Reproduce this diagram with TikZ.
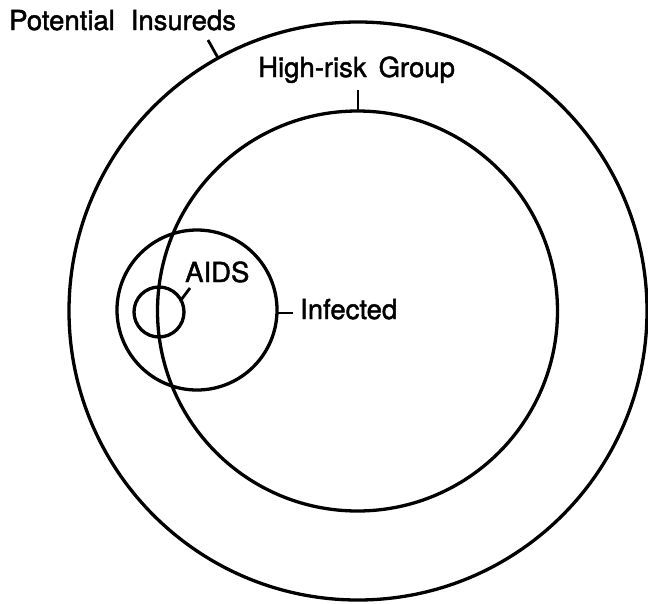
\documentclass[tikz,border=0pt]{standalone}
\usepackage{fontspec}
\setmainfont{TeX Gyre Heros}
\newfontface\labfont{TeX Gyre Heros}[FakeBold=1.6]
\begin{document}
\begin{tikzpicture}[x=1pt,y=-1pt,
  ring/.style={draw=black,line width=3.3pt},
  tick/.style={draw=black,line width=2.8pt},
  lab/.style={font=\labfont\fontsize{27.5}{30}\selectfont,inner sep=0pt,anchor=base west}]
\useasboundingbox (0,0) rectangle (648,603);
\fill[white] (0,0) rectangle (648,603);
% circles
\draw[ring] (358,311) circle[radius=289];
\draw[ring] (357.5,311) circle[radius=200];
\draw[ring] (197,310) circle[radius=80];
\draw[ring] (159,312) circle[radius=25];
% labels
\node[lab] (pot) at (9,30) {Potential\hspace{16pt}Insureds};
\node[lab] (hr) at (258,77) {High-risk\hspace{12pt}Group};
\node[lab] (inf) at (300,319) {Infected};
\node[lab] (aids) at (185,282) {AIDS};
% ticks
\coordinate (p1) at (208,40);
\coordinate (p2) at (217.5,57);
\coordinate (h1) at (358,90);
\coordinate (h2) at (358,111);
\coordinate (i1) at (277,313);
\coordinate (i2) at (293,313);
\coordinate (a1) at (181,300);
\coordinate (a2) at (190,288);
\draw[tick] (p1) -- (p2);
\draw[tick] (h1) -- (h2);
\draw[tick] (i1) -- (i2);
\draw[tick] (a1) -- (a2);
\end{tikzpicture}
\end{document}
